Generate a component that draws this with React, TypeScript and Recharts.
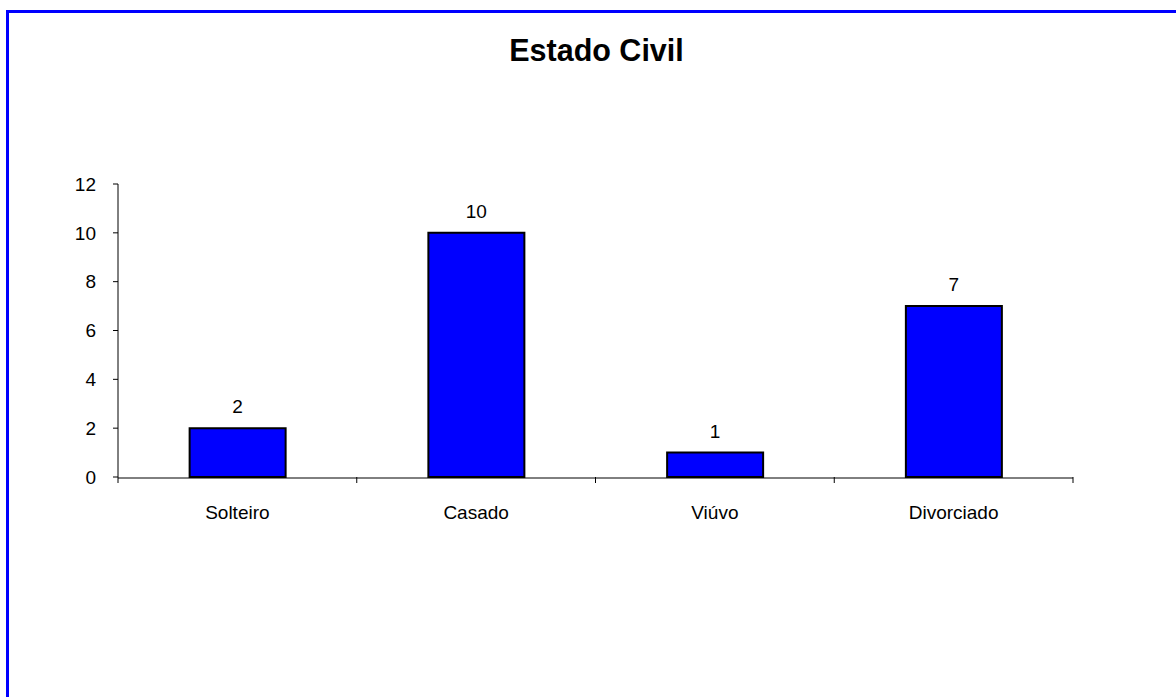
import React from 'react';
import { BarChart, Bar, XAxis, YAxis, LabelList } from 'recharts';

const categories = ['Solteiro', 'Casado', 'Viúvo', 'Divorciado'];
const counts = [2, 10, 1, 7];
const positions = [0.5, 1.5, 2.5, 3.5];
const yTicks = [0, 2, 4, 6, 8, 10, 12];
const boundaryTicks = [0, 1, 2, 3, 4];
const title = 'Estado Civil';

const data = categories.map((c, i) => ({ name: c, value: counts[i], pos: positions[i] }));

const FONT = 'Arial, "Liberation Sans", sans-serif';

export default function App() {
  return (
    <div
      style={{
        position: 'absolute',
        left: 0,
        top: 0,
        width: 1176,
        height: 697,
        background: '#fff',
        overflow: 'hidden',
        fontFamily: FONT,
      }}
    >
      <div
        style={{
          position: 'absolute',
          left: 6,
          top: 10,
          width: 1300,
          height: 800,
          borderLeft: '3px solid #0000FF',
          borderTop: '3px solid #0000FF',
        }}
      />
      <div
        style={{
          position: 'absolute',
          left: 0,
          top: 35,
          width: 1193,
          textAlign: 'center',
          fontSize: 30.5,
          lineHeight: '30px',
          fontWeight: 'bold',
          color: '#000',
          fontFamily: FONT,
        }}
      >
        {title}
      </div>
      <div style={{ position: 'absolute', left: 0, top: 0 }}>
        <BarChart
          width={1176}
          height={697}
          data={data}
          margin={{ top: 184, right: 103, bottom: 179, left: 58 }}
          barCategoryGap="30%"
          style={{ fontFamily: FONT }}
        >
          <XAxis
            xAxisId="bounds"
            dataKey="pos"
            type="number"
            domain={[0, 4]}
            ticks={boundaryTicks}
            allowDataOverflow
            tick={{ fontSize: 0 }}
            tickFormatter={() => ''}
            tickLine={{ stroke: '#000' }}
            tickSize={6}
            axisLine={false}
            height={1}
            interval={0}
          />
          <XAxis
            xAxisId="cat"
            dataKey="name"
            type="category"
            tickLine={false}
            axisLine={{ stroke: '#000', strokeWidth: 1 }}
            tickSize={0}
            tickMargin={28}
            tick={{ fill: '#000', fontSize: 19, fontFamily: FONT }}
            height={40}
            interval={0}
          />
          <YAxis
            domain={[0, 12]}
            ticks={yTicks}
            tickSize={5}
            tickMargin={17}
            tickLine={{ stroke: '#000' }}
            axisLine={{ stroke: '#000' }}
            tick={{ fill: '#000', fontSize: 19, fontFamily: FONT }}
            width={60}
            interval={0}
          />
          <Bar
            xAxisId="cat"
            dataKey="value"
            fill="#0000FF"
            stroke="#000"
            strokeWidth={2}
            isAnimationActive={false}
          >
            <LabelList
              dataKey="value"
              position="top"
              offset={15}
              fill="#000"
              fontSize={19}
              fontFamily={FONT}
            />
          </Bar>
        </BarChart>
      </div>
    </div>
  );
}
